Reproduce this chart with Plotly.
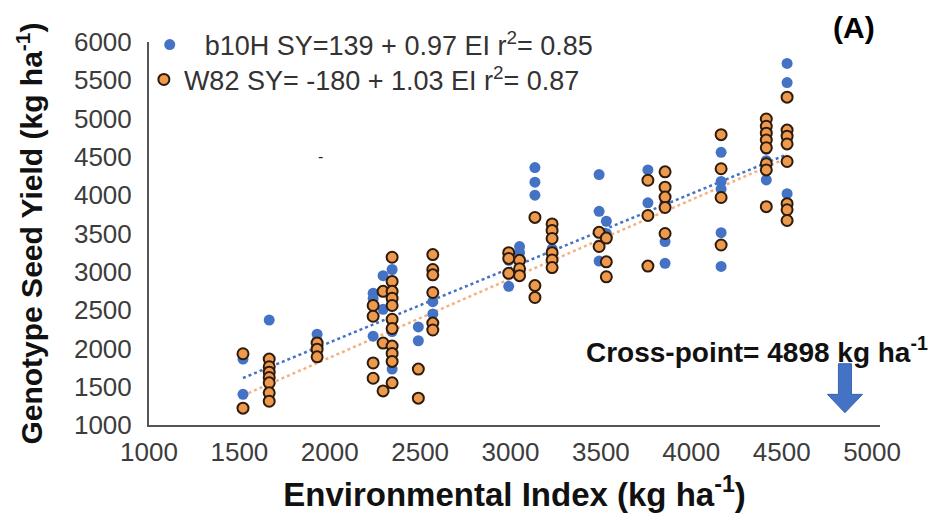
import numpy as np
import plotly.graph_objects as go

# ---------------- data ----------------
# b10H genotype: environmental index (EI) and seed yield (SY)
b10h_ei = ([1520] * 2 + [1665] * 4 + [1930] * 3 + [2240] * 3 + [2295] * 2 + [2345] * 4 +
           [2490] * 2 + [2570] * 2 + [2990] * 2 + [3050] * 2 + [3135] * 3 + [3230] * 1 +
           [3490] * 4 + [3530] * 2 + [3760] * 2 + [3855] * 3 + [4165] * 5 + [4415] * 3 +
           [4530] * 4)
b10h_sy = ([1860, 1400] +
           [2370, 1800, 1700, 1340] +
           [2185, 2100, 2000] +
           [2720, 2650, 2160] +
           [2950, 2510] +
           [3030, 2600, 2220, 1730] +
           [2280, 2100] +
           [2610, 2450] +
           [2810, 3150] +
           [3330, 3250] +
           [4360, 4170, 4000] +
           [3300] +
           [4270, 3790, 3140, 3350] +
           [3660, 3500] +
           [4330, 3900] +
           [3900, 3395, 3110] +
           [4560, 4180, 4080, 3510, 3070] +
           [4200, 4450, 4600] +
           [5720, 5470, 4750, 4020])

# W82 genotype
w82_ei = ([1520] * 2 + [1665] * 7 + [1930] * 3 + [2240] * 4 + [2295] * 3 + [2345] * 11 +
          [2490] * 2 + [2570] * 6 + [2990] * 3 + [3050] * 3 + [3135] * 3 + [3230] * 6 +
          [3490] * 2 + [3530] * 3 + [3760] * 3 + [3855] * 5 + [4165] * 4 + [4415] * 8 +
          [4530] * 8)
w82_sy = ([1930, 1220] +
          [1860, 1760, 1690, 1620, 1550, 1420, 1310] +
          [2070, 1990, 1890] +
          [2560, 2420, 1810, 1610] +
          [2745, 2070, 1445] +
          [3190, 2875, 2745, 2655, 2560, 2380, 2260, 2030, 1935, 1830, 1550] +
          [1730, 1350] +
          [3225, 3030, 2960, 2730, 2330, 2240] +
          [3250, 3175, 2980] +
          [3150, 3040, 2950] +
          [3710, 2820, 2665] +
          [3625, 3540, 3435, 3250, 3155, 3055] +
          [3515, 3330] +
          [3440, 3130, 2935] +
          [4195, 3735, 3075] +
          [4305, 4105, 3975, 3840, 3500] +
          [4790, 4345, 3970, 3350] +
          [4995, 4900, 4810, 4720, 4620, 4410, 4330, 3850] +
          [5280, 4850, 4770, 4670, 4440, 3890, 3810, 3670])

# regression equations shown in the legend
b10h_intercept, b10h_slope, b10h_r2 = 139, 0.97, 0.85
w82_intercept, w82_slope, w82_r2 = -180, 1.03, 0.87
cross_point = 4898          # value given in the label
arrow_x = 4850              # where the arrow is drawn on the picture

x_ticks = [1000, 1500, 2000, 2500, 3000, 3500, 4000, 4500, 5000]
y_ticks = [1000, 1500, 2000, 2500, 3000, 3500, 4000, 4500, 5000, 5500, 6000]

# ---------------- figure ----------------
FONT = "Liberation Sans, Arial, sans-serif"
BLUE = "#4472C4"
ORANGE_FILL = "#EE9A4E"
ORANGE_EDGE = "#2e1b0b"

fig = go.Figure()

# trend lines
bx = np.array([min(b10h_ei), max(b10h_ei)], dtype=float)
wx = np.array([min(w82_ei), max(w82_ei)], dtype=float)
fig.add_trace(go.Scatter(x=bx, y=b10h_intercept + b10h_slope * bx, mode="lines",
                         line=dict(color=BLUE, width=2.5, dash="dot"),
                         showlegend=False, hoverinfo="skip"))
fig.add_trace(go.Scatter(x=wx, y=w82_intercept + w82_slope * wx, mode="lines",
                         line=dict(color="#F4B183", width=2.5, dash="dot"),
                         showlegend=False, hoverinfo="skip"))

fig.add_trace(go.Scatter(
    x=b10h_ei, y=b10h_sy, mode="markers",
    name=f"\u00a0\u00a0b10H SY={b10h_intercept} + {b10h_slope} EI r<sup>2</sup>= {b10h_r2}",
    marker=dict(color=BLUE, size=11, line=dict(width=0)),
    legend="legend"))
fig.add_trace(go.Scatter(
    x=w82_ei, y=w82_sy, mode="markers",
    name=f"W82 SY= {w82_intercept} + {w82_slope} EI r<sup>2</sup>= {w82_r2}",
    marker=dict(color=ORANGE_FILL, size=11, line=dict(color=ORANGE_EDGE, width=2)),
    legend="legend2"))

# block arrow at the cross-point
hw, hh = 36, 97
y_top, y_neck, y_tip = 1800, 1400, 1160
path = (f"M {arrow_x - hw},{y_top} L {arrow_x + hw},{y_top} "
        f"L {arrow_x + hw},{y_neck} L {arrow_x + hh},{y_neck} "
        f"L {arrow_x},{y_tip} L {arrow_x - hh},{y_neck} "
        f"L {arrow_x - hw},{y_neck} Z")
fig.add_shape(type="path", path=path, xref="x", yref="y",
              fillcolor=BLUE, line=dict(color="#3a62b0", width=1))

fig.add_annotation(text=f"<b>Cross-point= {cross_point} kg ha<sup>-1</sup></b>",
                   xref="paper", yref="paper", x=0.595, y=0.196,
                   xanchor="left", yanchor="middle", showarrow=False,
                   font=dict(family=FONT, size=28, color="#111111"))
fig.add_annotation(text="<b>(A)</b>", xref="paper", yref="paper",
                   x=0.9644, y=1.039, xanchor="center", yanchor="middle",
                   showarrow=False, font=dict(family=FONT, size=30, color="#000000"))
fig.add_annotation(text="-", xref="paper", yref="paper", x=0.234, y=0.70,
                   xanchor="center", yanchor="middle", showarrow=False,
                   font=dict(family=FONT, size=16, color="#222222"))

axis_common = dict(showgrid=False, zeroline=False, showline=True,
                   linecolor="#555555", linewidth=2, ticks="",
                   tickfont=dict(family=FONT, size=26, color="#3c3c3c"))

fig.update_layout(
    width=943, height=521,
    margin=dict(l=141, r=71, t=34, b=104),
    paper_bgcolor="white", plot_bgcolor="white",
    font=dict(family=FONT, color="#222222"),
    xaxis=dict(range=[1000, 5044], tickvals=x_ticks, ticktext=[str(v) for v in x_ticks],
               ticklabelstandoff=3,
               title=dict(text="<b>Environmental Index (kg ha<sup>-1</sup>)</b>",
                          font=dict(family=FONT, size=33, color="#111111"), standoff=17),
               **axis_common),
    yaxis=dict(range=[1000, 6000], tickvals=y_ticks, ticktext=[str(v) for v in y_ticks],
               ticklabelstandoff=10,
               title=dict(text="<b>Genotype Seed Yield (kg ha<sup>-1</sup>)</b>",
                          font=dict(family=FONT, size=30, color="#111111"), standoff=22),
               **axis_common),
    legend=dict(x=0.001, y=0.992, xanchor="left", yanchor="middle",
                bgcolor="rgba(0,0,0,0)", font=dict(family=FONT, size=27, color="#333333"),
                itemwidth=30),
    legend2=dict(x=-0.007, y=0.901, xanchor="left", yanchor="middle",
                 bgcolor="rgba(0,0,0,0)", font=dict(family=FONT, size=27, color="#333333"),
                 itemwidth=30),
)

fig.write_html("out.html")
